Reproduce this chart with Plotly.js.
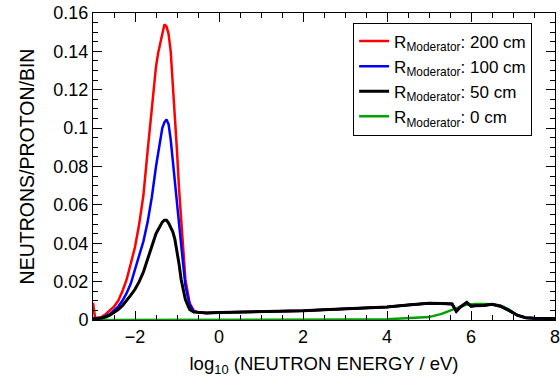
<!DOCTYPE html>
<html>
<head>
<meta charset="utf-8">
<script src="https://cdn.plot.ly/plotly-3.0.1.min.js"></script>
<style>html,body{margin:0;padding:0;background:#fff;}#chart{width:560px;height:378px;}</style>
</head>
<body>
<div id="chart"></div>
<script>
// log10(E / eV) grid
const logE = [-3.0, -2.95, -2.8, -2.7, -2.6, -2.5, -2.4, -2.3, -2.2, -2.1, -2.0, -1.9, -1.8, -1.7, -1.6, -1.5, -1.45, -1.4, -1.35, -1.3, -1.25,
  -1.2, -1.15, -1.1, -1.05, -1.0, -0.95, -0.9, -0.85, -0.8, -0.7, -0.6, -0.5,
  -0.3, 0, 0.5, 1, 1.5, 2, 2.5, 3, 3.5, 4, 4.5, 5, 5.3, 5.55, 5.65, 5.75, 5.9, 6.0, 6.1, 6.3, 6.5, 6.7, 6.9, 7.1, 7.3, 7.5, 8.0];

const fastTail = [0.0037, 0.0039, 0.0041, 0.0043, 0.0045, 0.0048, 0.0053, 0.0058, 0.0063, 0.0068, 0.0078, 0.0087, 0.0086, 0.0083, 0.0045,
  0.0068, 0.0092, 0.0072, 0.0074, 0.0076, 0.0082, 0.0072, 0.0050, 0.0025, 0.0012, 0.0009, 0.0008];

const r200 = [0.009, 0.001, 0.0015, 0.003, 0.005, 0.007, 0.010, 0.015, 0.021, 0.029, 0.038, 0.050, 0.065, 0.088, 0.112, 0.132, 0.139, 0.144,
  0.149, 0.154, 0.153, 0.149, 0.140, 0.124, 0.104, 0.088, 0.068, 0.052, 0.035, 0.021, 0.009, 0.0048, 0.004].concat(fastTail);
const r100 = [0.0008, 0.0008, 0.001, 0.002, 0.003, 0.005, 0.007, 0.010, 0.014, 0.019, 0.026, 0.034, 0.041, 0.051, 0.064, 0.080, 0.087, 0.094,
  0.100, 0.103, 0.1045, 0.102, 0.094, 0.083, 0.073, 0.063, 0.050, 0.039, 0.028, 0.018, 0.008, 0.0045, 0.004].concat(fastTail);
const r50 = [0.0005, 0.0005, 0.001, 0.0015, 0.0025, 0.004, 0.0055, 0.0075, 0.010, 0.013, 0.016, 0.020, 0.025, 0.032, 0.039, 0.045, 0.047, 0.049,
  0.051, 0.052, 0.052, 0.0505, 0.048, 0.046, 0.042, 0.036, 0.029, 0.021, 0.015, 0.0106, 0.0055, 0.0042, 0.004].concat(fastTail);
const r0 = [0, 0, 0, 0, 0, 0, 0, 0, 0, 0, 0, 0, 0, 0, 0, 0, 0, 0, 0, 0, 0, 0, 0, 0, 0, 0, 0, 0, 0, 0, 0, 0, 0,
  0, 0, 0, 0, 0, 0, 0, 0, 0.0002, 0.0004, 0.0008, 0.0015, 0.0032, 0.0055, 0.0062, 0.0070, 0.0080, 0.0082, 0.0083, 0.0083, 0.0082, 0.0076,
  0.0055, 0.0025, 0.0012, 0.0009, 0.0008];

const seriesNames = ['R<sub>Moderator</sub>: 200 cm', 'R<sub>Moderator</sub>: 100 cm', 'R<sub>Moderator</sub>: 50 cm', 'R<sub>Moderator</sub>: 0 cm'];
const seriesColors = ['#ff0000', '#0000ff', '#000000', '#00a000'];
const seriesValues = [r200, r100, r50, r0];
const drawOrder = [3, 0, 1, 2];
const widths = [2.5, 2.5, 3, 2.5];

const traces = drawOrder.map(i => ({
  x: logE, y: seriesValues[i], type: 'scatter', mode: 'lines',
  name: seriesNames[i], legendrank: i + 1,
  line: {color: seriesColors[i], width: widths[i]}
}));

const fam = "'Liberation Sans', Arial, Helvetica, sans-serif";
const font = {family: fam, size: 18, color: '#000'};
const layout = {
  width: 560, height: 378,
  margin: {l: 93, r: 5, t: 13, b: 58},
  paper_bgcolor: '#fff', plot_bgcolor: '#fff',
  font: font,
  showlegend: true,
  legend: {x: 0.563, y: 0.969, xanchor: 'left', yanchor: 'top', bgcolor: '#fff', bordercolor: '#000', borderwidth: 1,
    font: {family: fam, size: 17, color: '#000'}, tracegroupgap: 0, itemwidth: 30, traceorder: 'normal'},
  xaxis: {
    range: [-3, 8], tickvals: [-2, 0, 2, 4, 6, 8], ticktext: ['\u22122', '0', '2', '4', '6', '8'],
    ticks: 'inside', ticklen: 9, tickcolor: '#000', showline: true, linecolor: '#000', linewidth: 1, mirror: 'allticks',
    showgrid: false, zeroline: false, tickfont: font, ticklabeloverflow: 'allow',
    minor: {dtick: 0.5, tick0: 0, ticks: 'inside', ticklen: 5, tickcolor: '#000', showgrid: false},
    title: {text: 'log<sub>10</sub> (NEUTRON ENERGY / eV)', font: {family: fam, size: 18.5, color: '#000'}, standoff: 11}
  },
  yaxis: {
    range: [0, 0.16], dtick: 0.02, tick0: 0,
    ticks: 'inside', ticklen: 9, tickcolor: '#000', showline: true, linecolor: '#000', linewidth: 1, mirror: 'allticks',
    showgrid: false, zeroline: false, tickfont: font, ticklabeloverflow: 'allow',
    minor: {dtick: 0.005, tick0: 0, ticks: 'inside', ticklen: 5, tickcolor: '#000', showgrid: false},
    title: {text: 'NEUTRONS/PROTON/BIN', font: {family: fam, size: 19.5, color: '#000'}, standoff: 13}
  }
};
Plotly.newPlot('chart', traces, layout, {displayModeBar: false, staticPlot: true});
</script>
</body>
</html>
